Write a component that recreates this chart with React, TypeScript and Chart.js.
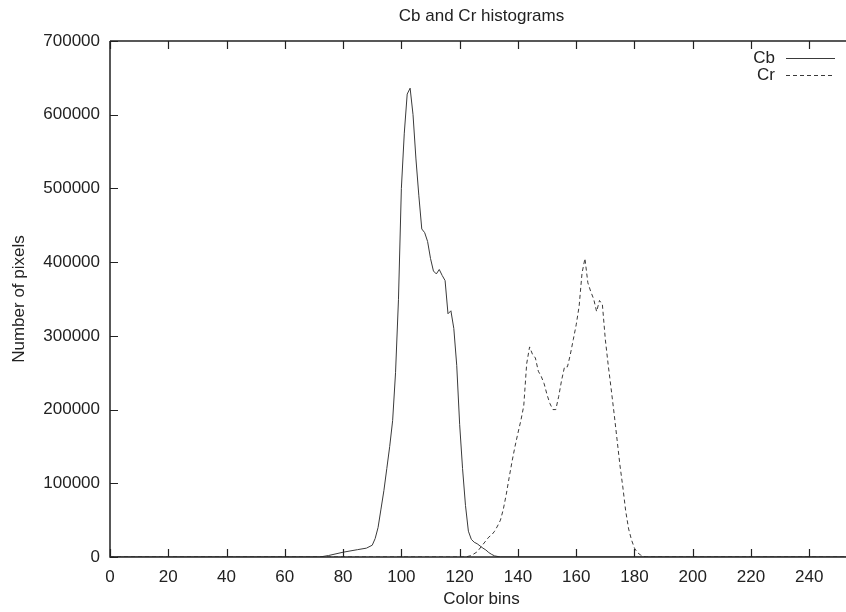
import React, { useEffect, useRef } from "react";
import { Chart, registerables } from "chart.js";

Chart.register(...registerables);

const chartTitle = "Cb and Cr histograms";
const xAxisTitle = "Color bins";
const yAxisTitle = "Number of pixels";

const cbBins = [0, 72, 75, 80, 85, 88, 90, 91, 92, 93, 94, 95, 96, 97, 98, 99, 100, 101, 102, 103, 104, 105, 106, 107, 108, 109, 110, 111, 112, 113, 114, 115, 116, 117, 118, 119, 120, 121, 122, 123, 124, 125, 126, 127, 128, 129, 130, 131, 132, 134, 255];
const cbValues = [0, 0, 2000, 6500, 10000, 12000, 16000, 25000, 40000, 65000, 90000, 120000, 150000, 185000, 250000, 349000, 500000, 575000, 628000, 636000, 600000, 540000, 490000, 445000, 440000, 428000, 405000, 388000, 384000, 390000, 382000, 375000, 330000, 334000, 310000, 260000, 180000, 120000, 70000, 35000, 24000, 20000, 18000, 15000, 12000, 9500, 6000, 3500, 1500, 0, 0];

const crBins = [0, 122, 124, 126, 128, 129, 130, 131, 132, 133, 134, 135, 136, 137, 138, 139, 140, 141, 142, 143, 144, 145, 146, 147, 148, 149, 150, 151, 152, 153, 154, 155, 156, 157, 158, 159, 160, 161, 162, 163, 164, 165, 166, 167, 168, 169, 170, 171, 172, 173, 174, 175, 176, 177, 178, 179, 180, 181, 182, 183, 184, 255];
const crValues = [0, 0, 2000, 7000, 17000, 22000, 27000, 30000, 35000, 42000, 50000, 65000, 85000, 108000, 130000, 150000, 168000, 185000, 205000, 262000, 285000, 275000, 270000, 252000, 245000, 235000, 220000, 208000, 200000, 200000, 218000, 240000, 258000, 258000, 275000, 295000, 315000, 340000, 385000, 405000, 372000, 360000, 350000, 333000, 348000, 342000, 295000, 260000, 228000, 195000, 160000, 125000, 95000, 62000, 38000, 23000, 12000, 6000, 3000, 1000, 0, 0];

const seriesLabels = ["Cb", "Cr"];
const xMin = 0;
const xMax = 255;
const xStep = 20;
const yMin = 0;
const yMax = 700000;
const yStep = 100000;

const FONT = "'Liberation Sans', Arial, Helvetica, sans-serif";
const TEXT = "#222";
const AXIS = "#222";
const LINE = "#3a3a3a";

const framePlugin = {
  id: "gnuFrame",
  afterDraw(chart: any) {
    const { ctx, chartArea } = chart;
    const { left, right, top, bottom } = chartArea;
    const xs = chart.scales.x;
    const ys = chart.scales.y;
    const tick = 8;
    ctx.save();
    ctx.strokeStyle = AXIS;
    ctx.lineWidth = 1.5;
    ctx.beginPath();
    ctx.moveTo(left, top);
    ctx.lineTo(right, top);
    ctx.lineTo(right, bottom);
    ctx.lineTo(left, bottom);
    ctx.lineTo(left, top);
    ctx.stroke();
    ctx.lineWidth = 1.2;
    ctx.beginPath();
    xs.ticks.forEach((t: any) => {
      const px = Math.round(xs.getPixelForValue(t.value)) + 0.5;
      ctx.moveTo(px, bottom);
      ctx.lineTo(px, bottom - tick);
      ctx.moveTo(px, top);
      ctx.lineTo(px, top + tick);
    });
    ys.ticks.forEach((t: any) => {
      const py = Math.round(ys.getPixelForValue(t.value)) + 0.5;
      ctx.moveTo(left, py);
      ctx.lineTo(left + tick, py);
    });
    ctx.stroke();

    // legend (top-right, gnuplot style)
    const textRight = 775;
    const lineStart = 786;
    const lineEnd = 835;
    const rows = [58, 74.5];
    ctx.font = `17px ${FONT}`;
    ctx.fillStyle = TEXT;
    ctx.textAlign = "right";
    ctx.textBaseline = "middle";
    chart.data.datasets.forEach((ds: any, i: number) => {
      const y = rows[i];
      ctx.fillText(ds.label, textRight, y + 0.5);
      ctx.strokeStyle = ds.borderColor;
      ctx.lineWidth = ds.borderWidth;
      ctx.setLineDash(ds.borderDash || []);
      ctx.beginPath();
      ctx.moveTo(lineStart, Math.round(y) + 0.5);
      ctx.lineTo(lineEnd, Math.round(y) + 0.5);
      ctx.stroke();
      ctx.setLineDash([]);
    });
    ctx.restore();
  },
};

export default function App() {
  const ref = useRef<HTMLCanvasElement | null>(null);

  useEffect(() => {
    if (!ref.current) return;
    const cbData = cbBins.map((b, i) => ({ x: b, y: cbValues[i] }));
    const crData = crBins.map((b, i) => ({ x: b, y: crValues[i] }));
    const chart = new Chart(ref.current, {
      type: "line",
      data: {
        datasets: [
          {
            label: seriesLabels[0],
            data: cbData,
            borderColor: LINE,
            borderWidth: 1,
            pointRadius: 0,
            tension: 0,
            fill: false,
          },
          {
            label: seriesLabels[1],
            data: crData,
            borderColor: LINE,
            borderWidth: 1,
            borderDash: [4, 3],
            pointRadius: 0,
            tension: 0,
            fill: false,
          },
        ],
      },
      options: {
        responsive: false,
        animation: false,
        devicePixelRatio: 1,
        layout: { padding: { left: 0, right: 17, top: 0, bottom: 0 } },
        plugins: {
          legend: { display: false },
          tooltip: { enabled: false },
          title: {
            display: true,
            text: chartTitle,
            fullSize: false,
            color: TEXT,
            font: { family: FONT, size: 17, weight: "normal", lineHeight: 1.2 },
            padding: { top: 6.5, bottom: 14.1 },
          },
        },
        scales: {
          x: {
            type: "linear",
            min: xMin,
            max: xMax,
            grid: { display: false, drawTicks: false },
            border: { display: false },
            ticks: {
              stepSize: xStep,
              includeBounds: false,
              autoSkip: false,
              maxRotation: 0,
              padding: 10.5,
              color: TEXT,
              font: { family: FONT, size: 17, lineHeight: 1.2 },
              callback: (v: any) => String(v),
            },
            afterBuildTicks: (s: any) => {
              s.ticks = s.ticks.filter((t: any) => t.value % xStep === 0);
            },
            afterFit: (s: any) => {
              s.height = 55;
            },
            title: {
              display: true,
              text: xAxisTitle,
              color: TEXT,
              font: { family: FONT, size: 17, lineHeight: 1.2 },
              padding: { top: 0, bottom: 2 },
            },
          },
          y: {
            type: "linear",
            min: yMin,
            max: yMax,
            grid: { display: false, drawTicks: false },
            border: { display: false },
            ticks: {
              stepSize: yStep,
              padding: 10,
              color: TEXT,
              font: { family: FONT, size: 17, lineHeight: 1.2 },
              callback: (v: any) => String(v),
            },
            afterFit: (s: any) => {
              s.width = 110;
            },
            title: {
              display: true,
              text: yAxisTitle,
              color: TEXT,
              font: { family: FONT, size: 17, lineHeight: 1.2 },
              padding: { top: 9.5, bottom: 0 },
            },
          },
        },
      },
      plugins: [framePlugin],
    });
    return () => chart.destroy();
  }, []);

  return (
    <div
      style={{
        position: "fixed",
        left: 0,
        top: 0,
        width: 846,
        height: 612,
        overflow: "hidden",
        background: "#fff",
      }}
    >
      <canvas ref={ref} width={870} height={612} style={{ width: 870, height: 612, display: "block" }} />
    </div>
  );
}
